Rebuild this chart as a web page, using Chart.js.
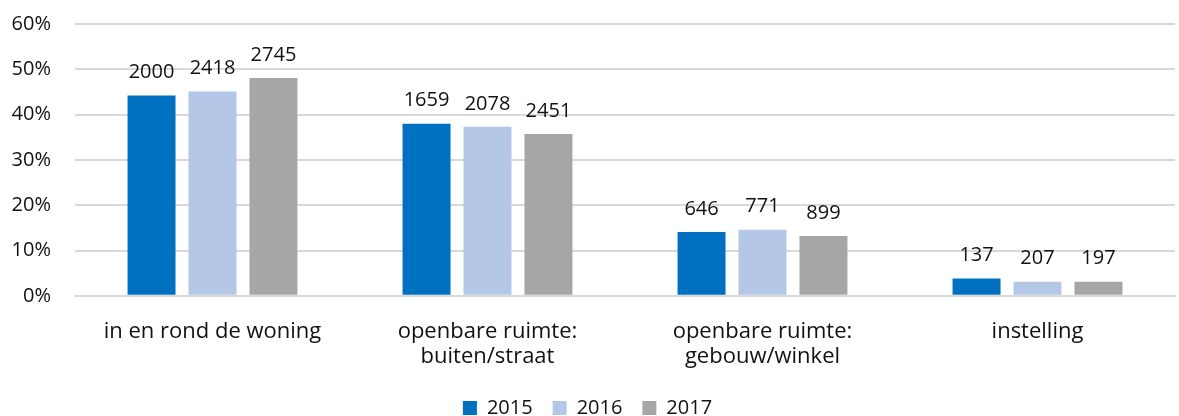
<!DOCTYPE html>
<html>
<head>
    <title>Locatie</title>
    <script src="https://cdn.jsdelivr.net/npm/chart.js"></script>
    <style>
        html, body { margin: 0; padding: 0; background: #fff; overflow: hidden; }
        #wrap { width: 1179px; height: 416px; overflow: hidden; }
        #chart { display: block; margin-top: -12px; }
    </style>
</head>
<body>
    <div id="wrap"><canvas id="chart" width="1179" height="428"></canvas></div>

    <script>
        const categories = [
            'in en rond de woning',
            ['openbare ruimte:', 'buiten/straat'],
            ['openbare ruimte:', 'gebouw/winkel'],
            'instelling'
        ];
        const years = ['2015', '2016', '2017'];
        const pct2015 = [44.2, 38.0, 14.1, 3.8];
        const pct2016 = [45.1, 37.3, 14.6, 3.1];
        const pct2017 = [48.1, 35.7, 13.2, 3.1];
        const count2015 = [2000, 1659, 646, 137];
        const count2016 = [2418, 2078, 771, 207];
        const count2017 = [2745, 2451, 899, 197];
        const colors = ['#0070c0', '#b4c7e7', '#a6a6a6'];

        const pcts = [pct2015, pct2016, pct2017];
        const counts = [count2015, count2016, count2017];
        const FONT = '"Open Sans", Lato, sans-serif';

        // aantallen boven de staven
        const countLabels = {
            id: 'countLabels',
            afterDatasetsDraw(chart) {
                const ctx = chart.ctx;
                ctx.save();
                ctx.font = '20px ' + FONT;
                ctx.fillStyle = '#111';
                ctx.textAlign = 'center';
                ctx.textBaseline = 'bottom';
                chart.data.datasets.forEach((ds, i) => {
                    chart.getDatasetMeta(i).data.forEach((bar, j) => {
                        ctx.fillText(counts[i][j], bar.x, bar.y - 13);
                    });
                });
                ctx.restore();
            }
        };

        new Chart(document.getElementById('chart'), {
            type: 'bar',
            data: {
                labels: categories,
                datasets: years.map((y, i) => ({
                    label: y,
                    data: pcts[i],
                    backgroundColor: colors[i],
                    categoryPercentage: 0.665,
                    barPercentage: 0.787
                }))
            },
            options: {
                responsive: false,
                animation: false,
                layout: { padding: { top: 0, right: 4, left: 0, bottom: -12 } },
                plugins: {
                    tooltip: { enabled: false },
                    legend: {
                        position: 'bottom',
                        labels: {
                            boxWidth: 14,
                            boxHeight: 14,
                            padding: 20,
                            color: '#111',
                            font: { size: 20, family: FONT }
                        }
                    }
                },
                scales: {
                    x: {
                        grid: { display: false },
                        border: { color: '#d9d9d9', width: 2 },
                        afterFit(axis) { axis.height -= 6; },
                        ticks: {
                            color: '#111',
                            padding: 15,
                            maxRotation: 0,
                            font: { size: 22, family: FONT, lineHeight: 1.14 }
                        }
                    },
                    y: {
                        min: 0,
                        max: 60,
                        grid: { color: '#d9d9d9', lineWidth: 2, drawTicks: false },
                        border: { display: false },
                        afterFit(axis) { axis.width = 75; },
                        ticks: {
                            stepSize: 10,
                            padding: 24,
                            color: '#111',
                            font: { size: 20, family: FONT },
                            callback: v => v + '%'
                        }
                    }
                }
            },
            plugins: [countLabels]
        });
    </script>
</body>
</html>
